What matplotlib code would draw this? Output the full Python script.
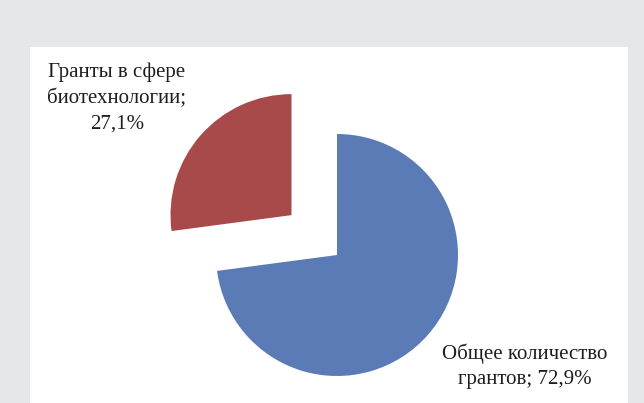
import matplotlib.pyplot as plt
from matplotlib.patches import Rectangle

labels = ["Общее количество\nгрантов", "Гранты в сфере\nбиотехнологии"]
values = [72.9, 27.1]
colors = ["#5a7bb6", "#a94a4a"]
explode = [0, 0.5]

W, H = 644, 403
cx, cy, r = 337, 255, 121  # pie centre and radius in pixels (from top)

fig = plt.figure(figsize=(W / 100, H / 100), dpi=100)
fig.patch.set_facecolor("#e6e7e9")

# white chart panel
fig.patches.append(Rectangle((30 / W, 0), 598 / W, (H - 47) / H,
                             transform=fig.transFigure, facecolor="white",
                             edgecolor="none", zorder=-5))

ax = fig.add_axes([0, 0, 1, 1])
ax.set_zorder(1)
ax.set_facecolor("none")
ax.pie(values, colors=colors, explode=explode, startangle=90,
       counterclock=False, wedgeprops={"linewidth": 0})
ax.set_xlim(-cx / r, (W - cx) / r)
ax.set_ylim(-(H - cy) / r, cy / r)
ax.set_aspect("equal")
ax.axis("off")

font = dict(family="Liberation Serif", fontsize=15, color="#1e1e1e",
            ha="center", va="center", linespacing=1.45, zorder=5)

def fmt(label, v, sep):
    return f"{label};{sep}{v:.1f}%".replace(".", ",")

fig.text(117 / W, 1 - 98 / H, fmt(labels[1], values[1], "\n"), **font)
fig.text(525 / W, 1 - 366 / H, fmt(labels[0], values[0], " "), **font)

fig.savefig("out.png", dpi=100, facecolor=fig.get_facecolor())
